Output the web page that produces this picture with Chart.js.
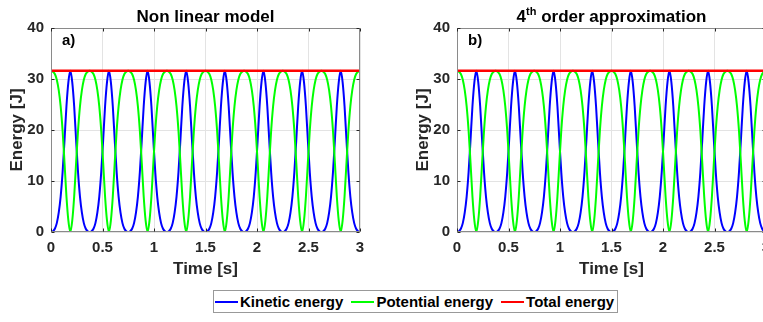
<!DOCTYPE html>
<html>
<head>
<meta charset="utf-8">
<script src="https://cdn.jsdelivr.net/npm/chart.js@4.4.1/dist/chart.umd.min.js"></script>
<style>
  html, body { margin: 0; padding: 0; background: #fff; width: 763px; height: 322px; overflow: hidden; position: relative; }
  canvas { position: absolute; top: 0; }
  #left { left: 0; }
  #right { left: 406px; }
  #legend {
    position: absolute; left: 213px; top: 290px; height: 21px;
    border: 1px solid #999; display: flex; align-items: center;
    padding: 0 3px 0 1px; white-space: nowrap;
    font: bold 15px "Liberation Sans", Arial, sans-serif; color: #000;
  }
  #legend .line { display: inline-block; width: 23px; height: 2px; margin-right: 2px; }
  #legend .item { display: flex; align-items: center; margin-right: 8px; }
  #legend .item:last-child { margin-right: 0; }
</style>
</head>
<body>
<canvas id="left" width="380" height="280"></canvas>
<canvas id="right" width="380" height="280"></canvas>
<div id="legend">
  <span class="item"><span class="line" style="background:#0000ff"></span>Kinetic energy</span>
  <span class="item"><span class="line" style="background:#00ff00"></span>Potential energy</span>
  <span class="item"><span class="line" style="background:#ff0000"></span>Total energy</span>
</div>
<script>
// energy [J] sampled every 0.01875 s, 0 .. 3 s (both models overlap at this scale)
const sampleStep = 0.01875;
const kineticEnergy = [
  0, 0.16, 0.63, 1.74, 3.79, 6.95, 11.69, 18.01, 24.65, 29.39, 31.6, 29.39, 24.65, 18.01, 11.69, 6.95, 3.79, 1.74, 0.63, 0.16,
  0, 0.16, 0.63, 1.74, 3.79, 6.95, 11.69, 18.01, 24.65, 29.39, 31.6, 29.39, 24.65, 18.01, 11.69, 6.95, 3.79, 1.74, 0.63, 0.16,
  0, 0.16, 0.63, 1.74, 3.79, 6.95, 11.69, 18.01, 24.65, 29.39, 31.6, 29.39, 24.65, 18.01, 11.69, 6.95, 3.79, 1.74, 0.63, 0.16,
  0, 0.16, 0.63, 1.74, 3.79, 6.95, 11.69, 18.01, 24.65, 29.39, 31.6, 29.39, 24.65, 18.01, 11.69, 6.95, 3.79, 1.74, 0.63, 0.16,
  0, 0.16, 0.63, 1.74, 3.79, 6.95, 11.69, 18.01, 24.65, 29.39, 31.6, 29.39, 24.65, 18.01, 11.69, 6.95, 3.79, 1.74, 0.63, 0.16,
  0, 0.16, 0.63, 1.74, 3.79, 6.95, 11.69, 18.01, 24.65, 29.39, 31.6, 29.39, 24.65, 18.01, 11.69, 6.95, 3.79, 1.74, 0.63, 0.16,
  0, 0.16, 0.63, 1.74, 3.79, 6.95, 11.69, 18.01, 24.65, 29.39, 31.6, 29.39, 24.65, 18.01, 11.69, 6.95, 3.79, 1.74, 0.63, 0.16,
  0, 0.16, 0.63, 1.74, 3.79, 6.95, 11.69, 18.01, 24.65, 29.39, 31.6, 29.39, 24.65, 18.01, 11.69, 6.95, 3.79, 1.74, 0.63, 0.16,
  0
];
const potentialEnergy = [
  31.6, 31.44, 30.97, 29.86, 27.81, 24.65, 19.91, 13.59, 6.95, 2.21, 0, 2.21, 6.95, 13.59, 19.91, 24.65, 27.81, 29.86, 30.97, 31.44,
  31.6, 31.44, 30.97, 29.86, 27.81, 24.65, 19.91, 13.59, 6.95, 2.21, 0, 2.21, 6.95, 13.59, 19.91, 24.65, 27.81, 29.86, 30.97, 31.44,
  31.6, 31.44, 30.97, 29.86, 27.81, 24.65, 19.91, 13.59, 6.95, 2.21, 0, 2.21, 6.95, 13.59, 19.91, 24.65, 27.81, 29.86, 30.97, 31.44,
  31.6, 31.44, 30.97, 29.86, 27.81, 24.65, 19.91, 13.59, 6.95, 2.21, 0, 2.21, 6.95, 13.59, 19.91, 24.65, 27.81, 29.86, 30.97, 31.44,
  31.6, 31.44, 30.97, 29.86, 27.81, 24.65, 19.91, 13.59, 6.95, 2.21, 0, 2.21, 6.95, 13.59, 19.91, 24.65, 27.81, 29.86, 30.97, 31.44,
  31.6, 31.44, 30.97, 29.86, 27.81, 24.65, 19.91, 13.59, 6.95, 2.21, 0, 2.21, 6.95, 13.59, 19.91, 24.65, 27.81, 29.86, 30.97, 31.44,
  31.6, 31.44, 30.97, 29.86, 27.81, 24.65, 19.91, 13.59, 6.95, 2.21, 0, 2.21, 6.95, 13.59, 19.91, 24.65, 27.81, 29.86, 30.97, 31.44,
  31.6, 31.44, 30.97, 29.86, 27.81, 24.65, 19.91, 13.59, 6.95, 2.21, 0, 2.21, 6.95, 13.59, 19.91, 24.65, 27.81, 29.86, 30.97, 31.44,
  31.6
];
const totalTime = [0, 3];
const totalEnergy = [31.6, 31.6];

const timeTicks = [0, 0.5, 1, 1.5, 2, 2.5, 3];
const energyTicks = [0, 10, 20, 30, 40];

const time = kineticEnergy.map((_, i) => i * sampleStep);
const FONT = '"Liberation Sans", Arial, Helvetica, sans-serif';

// matlab style box, inward ticks, title and panel letter
const matlabFrame = {
  id: "matlabFrame",
  afterDatasetsDraw(chart, args, opts) {
    const { ctx, chartArea: a, scales } = chart;
    ctx.save();
    ctx.strokeStyle = "#8a8a8a";
    ctx.lineWidth = 1;
    const l = Math.round(a.left) + 0.5, r = Math.round(a.right) - 0.5;
    const t = Math.round(a.top) + 0.5, b = Math.round(a.bottom) - 0.5;
    ctx.strokeRect(l, t, r - l, b - t);
    ctx.strokeStyle = "#262626";
    ctx.beginPath();
    timeTicks.forEach((v) => {
      const px = Math.round(scales.x.getPixelForValue(v)) + 0.5;
      ctx.moveTo(px, b); ctx.lineTo(px, b - 3);
      ctx.moveTo(px, t); ctx.lineTo(px, t + 3);
    });
    energyTicks.forEach((v) => {
      const py = Math.round(scales.y.getPixelForValue(v)) + 0.5;
      ctx.moveTo(l, py); ctx.lineTo(l + 3, py);
      ctx.moveTo(r, py); ctx.lineTo(r - 3, py);
    });
    ctx.stroke();

    ctx.fillStyle = "#000";
    ctx.textBaseline = "alphabetic";
    ctx.font = "bold 15px " + FONT;
    ctx.fillText(opts.label, a.left + 11, a.top + 17);

    // title, parts can be superscript
    const big = "bold 17px " + FONT, small = "bold 11px " + FONT;
    let w = 0;
    opts.title.forEach(([txt, sup]) => { ctx.font = sup ? small : big; w += ctx.measureText(txt).width; });
    let x = (a.left + a.right) / 2 - w / 2;
    opts.title.forEach(([txt, sup]) => {
      ctx.font = sup ? small : big;
      ctx.fillText(txt, x, sup ? 15 : 21.5);
      x += ctx.measureText(txt).width;
    });
    ctx.restore();
  },
};

const makeChart = (id, title, label) => {
  return new Chart(document.getElementById(id), {
    type: "line",
    data: {
      datasets: [
        {
          label: "Total energy",
          data: totalTime.map((t, i) => ({ x: t, y: totalEnergy[i] })),
          borderColor: "#ff0000",
          borderWidth: 2.5,
          order: 1,
        },
        {
          label: "Potential energy",
          data: time.map((t, i) => ({ x: t, y: potentialEnergy[i] })),
          borderColor: "#00ff00",
          order: 2,
        },
        {
          label: "Kinetic energy",
          data: time.map((t, i) => ({ x: t, y: kineticEnergy[i] })),
          borderColor: "#0000ff",
          order: 3,
        },
      ],
    },
    options: {
      responsive: false,
      animation: false,
      layout: { padding: { left: 7, top: 28, right: 20, bottom: 0 } },
      elements: {
        point: { radius: 0 },
        line: { borderWidth: 2, cubicInterpolationMode: "monotone", fill: false },
      },
      plugins: {
        legend: { display: false },
        tooltip: { enabled: false },
        matlabFrame: { title: title, label: label },
      },
      scales: {
        x: {
          type: "linear",
          min: 0,
          max: 3,
          afterBuildTicks: (s) => { s.ticks = timeTicks.map((v) => ({ value: v })); },
          afterFit: (s) => { s.height = 48; },
          ticks: {
            callback: (v) => String(v),
            padding: 7,
            color: "#262626",
            maxRotation: 0,
            font: { family: FONT, size: 15, weight: "bold" },
          },
          grid: { color: "#e3e3e3", drawTicks: false },
          border: { display: false },
          title: {
            display: true,
            text: "Time [s]",
            color: "#262626",
            padding: { top: 0, bottom: 0 },
            font: { family: FONT, size: 17, weight: "bold" },
          },
        },
        y: {
          min: 0,
          max: 40,
          afterBuildTicks: (s) => { s.ticks = energyTicks.map((v) => ({ value: v })); },
          afterFit: (s) => { s.width = 44; },
          ticks: {
            padding: 7,
            color: "#262626",
            font: { family: FONT, size: 15, weight: "bold" },
          },
          grid: { color: "#e3e3e3", drawTicks: false },
          border: { display: false },
          title: {
            display: true,
            text: "Energy [J]",
            color: "#262626",
            padding: { top: 0, bottom: 0 },
            font: { family: FONT, size: 17, weight: "bold" },
          },
        },
      },
    },
    plugins: [matlabFrame],
  });
};

makeChart("left", [["Non linear model", false]], "a)");
makeChart("right", [["4", false], ["th", true], [" order approximation", false]], "b)");
</script>
</body>
</html>
